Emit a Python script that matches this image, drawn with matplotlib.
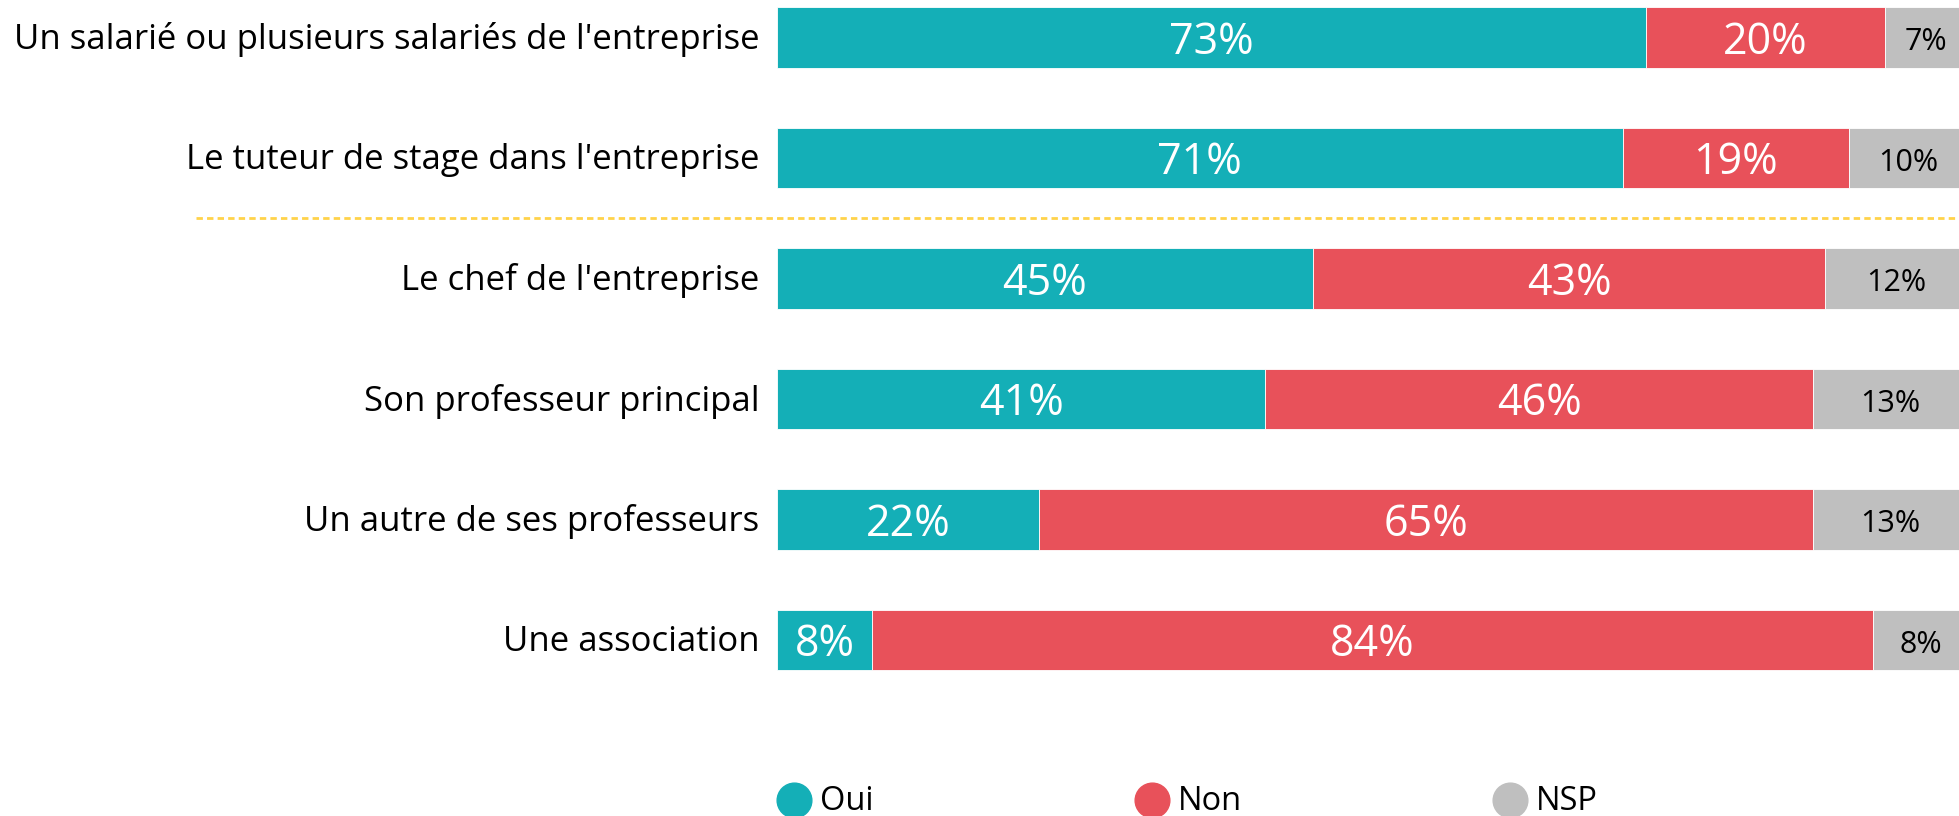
import matplotlib.pyplot as plt
from matplotlib.transforms import blended_transform_factory

plt.rcParams['font.family'] = ['Open Sans', 'DejaVu Sans']

categories = [
    "Un salarié ou plusieurs salariés de l'entreprise",
    "Le tuteur de stage dans l'entreprise",
    "Le chef de l'entreprise",
    "Son professeur principal",
    "Un autre de ses professeurs",
    "Une association",
]
oui = [73, 71, 45, 41, 22, 8]
non = [20, 19, 43, 46, 65, 84]
nsp = [7, 10, 12, 13, 13, 8]

series_names = ['Oui', 'Non', 'NSP']
colors = ['#14AFB7', '#E8515A', '#BFBFBF']
label_colors = ['white', 'white', 'black']
label_sizes = [31, 31, 22]

W, H = 1959, 816
fig = plt.figure(figsize=(W / 100, H / 100), dpi=100)
# axes runs a little past the right edge (the reference is cropped)
x0, x1 = 777, 1968
ax = fig.add_axes([x0 / W, 0, (x1 - x0) / W, 1])
ax.set_xlim(0, 100)
ax.set_ylim((H - 37.5) / 120.5, -37.5 / 120.5)
ax.axis('off')

y = list(range(len(categories)))
left = [0] * len(categories)
for name, vals, c, tc, ts in zip(series_names, [oui, non, nsp], colors, label_colors, label_sizes):
    ax.barh(y, vals, left=left, height=0.5, color=c, edgecolor='white', linewidth=0.6)
    for yi, v, l in zip(y, vals, left):
        ax.text(l + v / 2, yi + 0.04, f"{v}%", ha='center', va='center', color=tc, fontsize=ts)
    left = [l + v for l, v in zip(left, vals)]

for yi, cat in zip(y, categories):
    ax.text(-1.5, yi + 0.02, cat, ha='right', va='center', fontsize=25, color='black')

# dotted separator between the company group and the others
tr = blended_transform_factory(fig.transFigure, ax.transData)
ax.plot([196 / W, 1], [1.5, 1.5], transform=tr, color='#FFD34A', lw=2,
        dashes=(2.3, 1.5), clip_on=False)

# legend at the bottom (partly cropped in the reference)
for i, (name, c) in enumerate(zip(series_names, colors)):
    cx = (794 + i * 358) / W
    fig.lines.append(plt.Line2D([cx], [16 / H], marker='o', markersize=25, color=c,
                                transform=fig.transFigure, linestyle='none'))
    fig.text(cx + 26 / W, 14 / H, name, ha='left', va='center', fontsize=23.5, color='black')

fig.savefig('out.png', dpi=100)
